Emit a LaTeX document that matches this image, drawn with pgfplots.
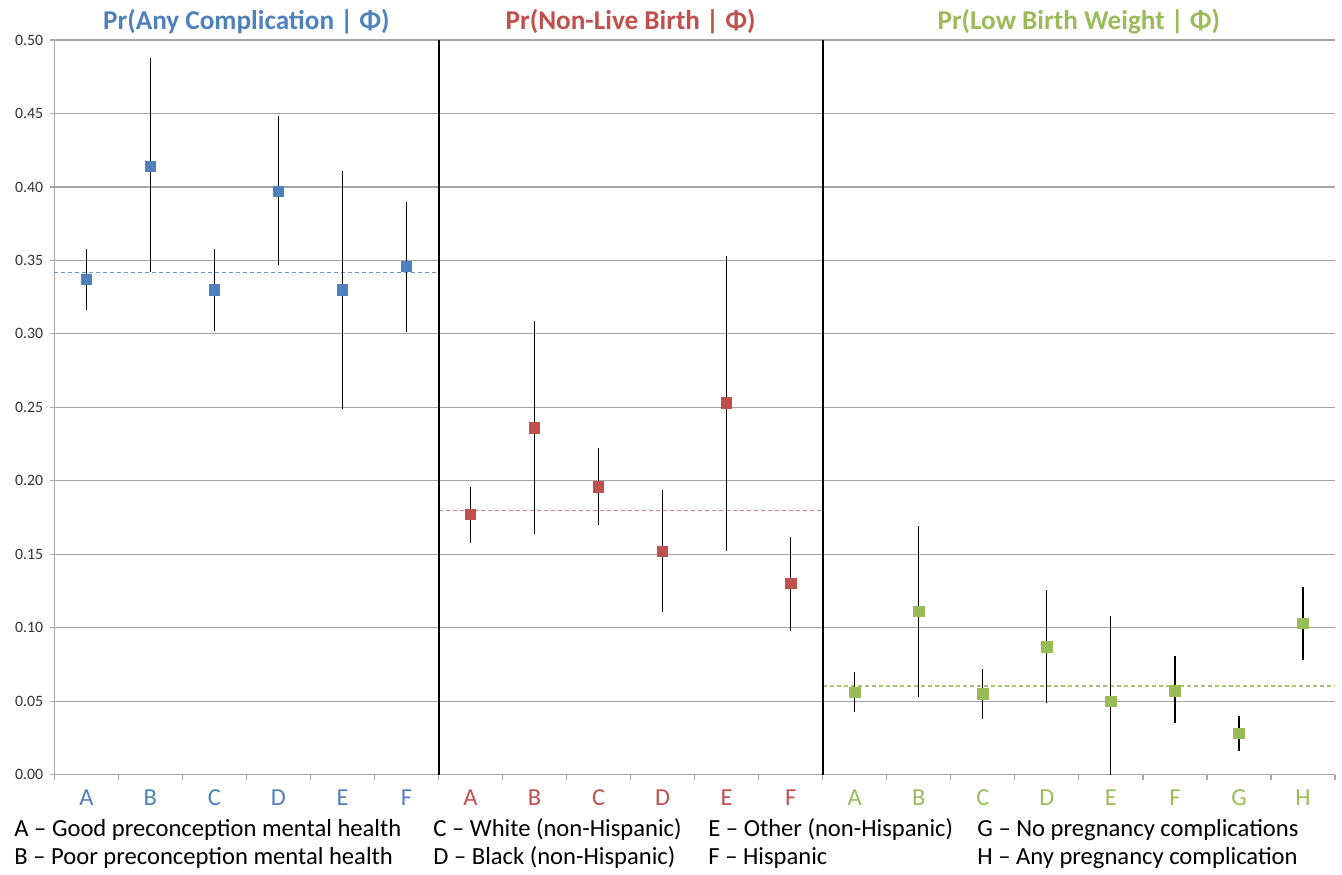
\documentclass[border=0pt]{standalone}
\usepackage{fontspec}
\setmainfont{Carlito}
\usepackage{pgfplots}
\pgfplotsset{compat=1.18}
\usepackage{pgfplotstable}
\definecolor{cblue}{HTML}{4F81BD}
\definecolor{cred}{HTML}{C0504D}
\definecolor{cgreen}{HTML}{9BBB59}
\definecolor{gridgray}{HTML}{A6A6A6}

\pgfplotstableread{
x y lo hi
0 0.337 0.316 0.358
1 0.414 0.342 0.488
2 0.330 0.302 0.358
3 0.397 0.347 0.448
4 0.330 0.249 0.411
5 0.346 0.301 0.390
}\tA
\pgfplotstableread{
x y lo hi
6 0.177 0.158 0.196
7 0.236 0.164 0.309
8 0.196 0.170 0.222
9 0.152 0.111 0.194
10 0.253 0.152 0.353
11 0.130 0.098 0.162
}\tB
\pgfplotstableread{
x y lo hi
12 0.056 0.043 0.070
13 0.111 0.053 0.169
14 0.055 0.038 0.072
15 0.087 0.049 0.126
16 0.050 0.000 0.108
17 0.057 0.035 0.081
18 0.028 0.016 0.040
19 0.103 0.078 0.128
}\tC

\begin{document}
\begin{tikzpicture}
\path[use as bounding box] (-27.15pt,-49.65pt) rectangle (643.85pt,387.35pt);
\begin{axis}[
  at={(0,0)}, anchor=south west,
  scale only axis, width=640.35pt, height=367.35pt,
  xmin=-0.5, xmax=19.5, ymin=0, ymax=0.5,
  axis x line*=bottom, axis y line*=left,
  axis line style={gridgray, line width=0.6pt},
  clip=false,
  tick align=outside,
  major tick length=2pt,
  minor tick length=2.5pt,
  tick style={gridgray, line width=0.6pt},
  major x tick style={draw=none},
  ytick={0,0.05,0.1,0.15,0.2,0.25,0.3,0.35,0.4,0.45,0.5},
  /pgf/number format/fixed, /pgf/number format/fixed zerofill, /pgf/number format/precision=2, /pgf/number format/assume math mode=true,
  yticklabel style={font=\fontsize{7.9}{9}\selectfont, text=black!80},
  ymajorgrids, grid style={gridgray, line width=0.6pt},
  xtick={0,1,2,3,4,5,6,7,8,9,10,11,12,13,14,15,16,17,18,19},
  minor xtick={-0.5,0.5,1.5,2.5,3.5,4.5,5.5,6.5,7.5,8.5,9.5,10.5,11.5,12.5,13.5,14.5,15.5,16.5,17.5,18.5,19.5},
  xticklabels={\textcolor{cblue}{A},\textcolor{cblue}{B},\textcolor{cblue}{C},\textcolor{cblue}{D},\textcolor{cblue}{E},\textcolor{cblue}{F},
    \textcolor{cred}{A},\textcolor{cred}{B},\textcolor{cred}{C},\textcolor{cred}{D},\textcolor{cred}{E},\textcolor{cred}{F},
    \textcolor{cgreen}{A},\textcolor{cgreen}{B},\textcolor{cgreen}{C},\textcolor{cgreen}{D},\textcolor{cgreen}{E},\textcolor{cgreen}{F},\textcolor{cgreen}{G},\textcolor{cgreen}{H}},
  xticklabel style={font=\fontsize{12.2}{14}\selectfont, anchor=base, yshift=-13.5pt},
]
% mean lines
\addplot[cblue!85, line width=0.6pt, dash pattern=on 2pt off 1.5pt] coordinates {(-0.5,0.342) (5.5,0.342)};
\addplot[cred!70, line width=0.6pt, dash pattern=on 2pt off 1.5pt] coordinates {(5.5,0.180) (11.5,0.180)};
\addplot[cgreen!85, line width=0.6pt, dash pattern=on 2pt off 1.5pt] coordinates {(11.5,0.0604) (19.5,0.0604)};
% separators
\addplot[black, line width=1pt] coordinates {(5.5,0) (5.5,0.5)};
\addplot[black, line width=1pt] coordinates {(11.5,0) (11.5,0.5)};
% error bars
\pgfplotsset{errstyle/.style={draw=none, mark=none, error bars/.cd, y dir=both, y explicit, error mark=none, error bar style={black, line width=0.6pt}}}
\addplot[errstyle] table[x=x, y=y, y error plus expr=\thisrow{hi}-\thisrow{y}, y error minus expr=\thisrow{y}-\thisrow{lo}] {\tA};
\addplot[errstyle] table[x=x, y=y, y error plus expr=\thisrow{hi}-\thisrow{y}, y error minus expr=\thisrow{y}-\thisrow{lo}] {\tB};
\addplot[errstyle] table[x=x, y=y, y error plus expr=\thisrow{hi}-\thisrow{y}, y error minus expr=\thisrow{y}-\thisrow{lo}] {\tC};
% markers
\addplot[only marks, mark=square*, mark size=2.6pt, mark options={draw=cblue, fill=cblue}] table[x=x, y=y] {\tA};
\addplot[only marks, mark=square*, mark size=2.6pt, mark options={draw=cred, fill=cred}] table[x=x, y=y] {\tB};
\addplot[only marks, mark=square*, mark size=2.6pt, mark options={draw=cgreen, fill=cgreen}] table[x=x, y=y] {\tC};
% titles
\node[anchor=base, inner sep=0, text=cblue, font=\bfseries\fontsize{13.6}{16}\selectfont] at (axis cs:2.5,0.5) [yshift=5.35pt] {Pr(Any Complication | Φ)};
\node[anchor=base, inner sep=0, text=cred, font=\bfseries\fontsize{13.6}{16}\selectfont] at (axis cs:8.5,0.5) [yshift=5.35pt] {Pr(Non-Live Birth | Φ)};
\node[anchor=base, inner sep=0, text=cgreen, font=\bfseries\fontsize{13.6}{16}\selectfont] at (axis cs:15.5,0.5) [yshift=5.35pt] {Pr(Low Birth Weight | Φ)};
\end{axis}
\begin{scope}[every node/.style={anchor=base west, inner sep=0, font=\fontsize{12.3}{14}\selectfont}]
\node at (-20.15pt,-30.65pt) {A – Good preconception mental health};
\node at (-20.15pt,-44.8pt) {B – Poor preconception mental health};
\node at (189.35pt,-30.65pt) {C – White (non-Hispanic)};
\node at (189.35pt,-44.8pt) {D – Black (non-Hispanic)};
\node at (326.85pt,-30.65pt) {E – Other (non-Hispanic)};
\node at (326.85pt,-44.8pt) {F – Hispanic};
\node at (461.35pt,-30.65pt) {G – No pregnancy complications};
\node at (461.35pt,-44.8pt) {H – Any pregnancy complication};
\end{scope}
\end{tikzpicture}
\end{document}
